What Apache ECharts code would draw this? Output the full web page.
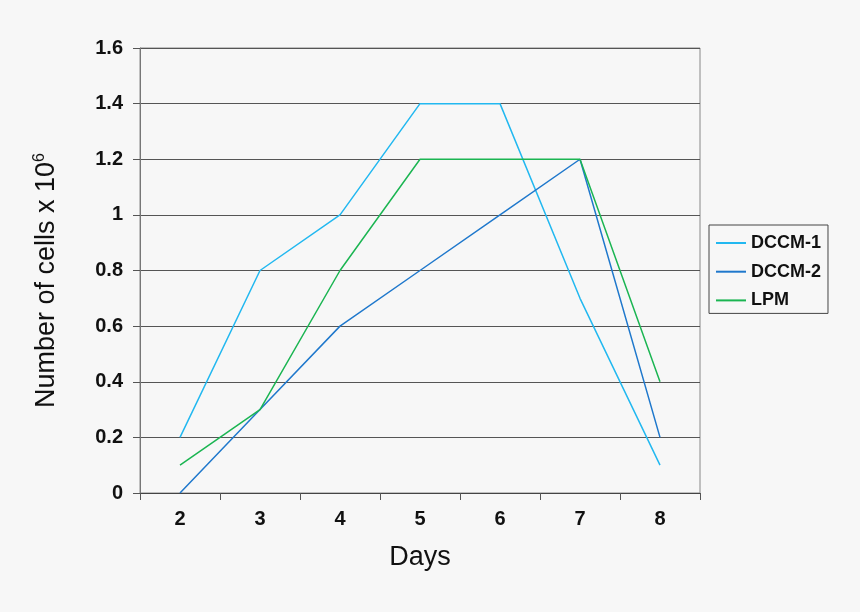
<!DOCTYPE html>
<html><head><meta charset="utf-8">
<script src="https://cdn.jsdelivr.net/npm/echarts@6/dist/echarts.min.js"></script>
<style>html,body{margin:0;padding:0;background:#f7f7f7;}#c{width:860px;height:612px;}</style>
</head><body><div id="c"></div>
<script>
const days = ['2','3','4','5','6','7','8'];
const dccm1 = [0.2, 0.8, 1.0, 1.4, 1.4, 0.7, 0.1];
const dccm2 = [0.0, 0.3, 0.6, 0.8, 1.0, 1.2, 0.2];
const lpm = [0.1, 0.3, 0.8, 1.2, 1.2, 1.2, 0.4];
const yTicks = [0, 0.2, 0.4, 0.6, 0.8, 1, 1.2, 1.4, 1.6];

const chart = echarts.init(document.getElementById('c'));
const font = 'Liberation Sans, Arial, sans-serif';
function mk(name, data, color) {
  return {name, type:'line', data, symbol:'none', lineStyle:{color, width:1.5}, itemStyle:{color}, animation:false};
}
chart.setOption({
  backgroundColor:'#f7f7f7',
  animation:false,
  grid:{left:140, right:160, top:48, bottom:119, show:true, borderColor:'#888', borderWidth:1, backgroundColor:'transparent'},
  legend:{
    orient:'vertical', left:709, top:225,
    padding:[9,7,4,7], itemGap:10.7,
    backgroundColor:'#f7f7f7', borderColor:'#444', borderWidth:1,
    itemWidth:30, itemHeight:12, icon:'path://M0,5 L30,5 L30,7 L0,7 Z',
    textStyle:{fontFamily:font, fontWeight:'bold', fontSize:18, color:'#111'},
    data:['DCCM-1','DCCM-2','LPM']
  },
  xAxis:{
    type:'category', data:days, boundaryGap:true,
    name:'Days', nameLocation:'middle', nameGap:51,
    nameTextStyle:{fontFamily:font, fontSize:27, color:'#111'},
    axisLine:{lineStyle:{color:'#444', width:1}},
    axisTick:{show:true, length:7, lineStyle:{color:'#555'}},
    axisLabel:{fontFamily:font, fontWeight:'bold', fontSize:20, color:'#111', margin:16}
  },
  yAxis:{
    type:'value', min:0, max:1.6, interval:0.2,
    name:'Number of cells x 10{sup|6}', nameLocation:'middle', nameGap:78, nameRotate:90,
    nameTextStyle:{fontFamily:font, fontSize:27, color:'#111', padding:[0,20,0,0],
      rich:{sup:{fontFamily:font, fontSize:16, color:'#111', verticalAlign:'top', padding:[0,0,14,0]}}},
    axisLine:{show:true, lineStyle:{color:'#777', width:1}},
    axisTick:{show:true, length:7, lineStyle:{color:'#555'}},
    splitLine:{lineStyle:{color:'#555', width:1}},
    axisLabel:{fontFamily:font, fontWeight:'bold', fontSize:20, color:'#111', margin:17,
      formatter:v => { const t = yTicks.find(x => Math.abs(x - v) < 1e-9); return t === undefined ? '' : String(t); }}
  },
  series:[mk('DCCM-1', dccm1, '#22b8f0'), mk('DCCM-2', dccm2, '#1f78cc'), mk('LPM', lpm, '#1bb552')]
});
</script></body></html>
